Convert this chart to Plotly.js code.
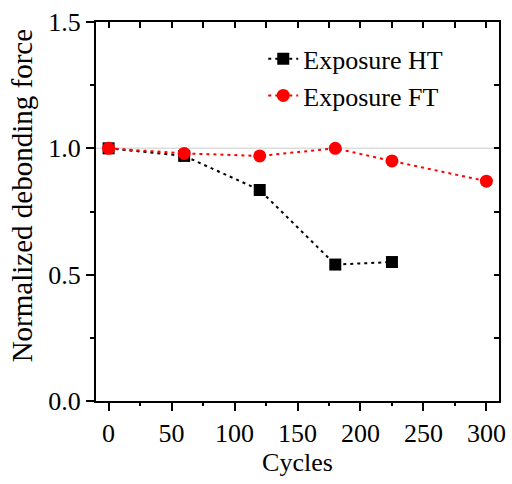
<!DOCTYPE html>
<html>
<head>
<meta charset="utf-8">
<script src="https://cdn.plot.ly/plotly-3.0.1.min.js"></script>
<style>
  html, body { margin: 0; padding: 0; background: #fff; }
  #chart { width: 512px; height: 484px; }
</style>
</head>
<body>
<div id="chart"></div>
<script>
// Normalized debonding force vs. number of exposure cycles
var cyclesHT = [0, 60, 120, 180, 225];
var forceHT  = [1.00, 0.97, 0.835, 0.54, 0.55];

var cyclesFT = [0, 60, 120, 180, 225, 300];
var forceFT  = [1.00, 0.98, 0.97, 1.00, 0.95, 0.87];

var xRange = [-10, 310];
var yRange = [0, 1.5];
var baseline = forceHT[0];   // normalization reference (initial force)

// evenly spaced tick positions within [a, b]
function steps(a, b, d) {
  var out = [];
  for (var i = 0; a + i * d <= b + 1e-9; i++) out.push(+(a + i * d).toFixed(4));
  return out;
}
var xMajorTicks = steps(0, 300, 50);
var xMinorTicks = steps(25, 300, 50);
var yMajorTicks = steps(0, 1.5, 0.5);
var yMinorTicks = steps(0.25, 1.5, 0.5);
var xAllTicks = steps(0, 300, 25);
var yAllTicks = steps(0, 1.5, 0.25);

var FONT = 'Liberation Serif';

// invisible carrier traces so the extra frame/tick axes get drawn
function carrier(xa, ya) {
  return { x: cyclesFT, y: forceFT, xaxis: xa, yaxis: ya, type: 'scatter', mode: 'markers',
           opacity: 0, showlegend: false };
}

var traces = [
  carrier('x2', 'y2'),
  carrier('x3', 'y3'),
  // light reference line at the initial (normalized) force
  {
    x: xRange, y: [baseline, baseline], type: 'scatter', mode: 'lines',
    line: { color: '#dddddd', width: 1.5 }, showlegend: false
  },
  {
    x: cyclesHT, y: forceHT, name: 'Exposure HT',
    type: 'scatter', mode: 'lines+markers',
    line: { color: '#000000', width: 2, dash: '3px,4px' },
    marker: { symbol: 'square', size: 12, color: '#000000' }
  },
  {
    x: cyclesFT, y: forceFT, name: 'Exposure FT',
    type: 'scatter', mode: 'lines+markers',
    line: { color: '#ff0000', width: 2, dash: '3px,4px' },
    marker: { symbol: 'circle', size: 13, color: '#ff0000' }
  }
];

var bare = { showgrid: false, zeroline: false, tickwidth: 2, tickcolor: '#000' };

var layout = {
  width: 512, height: 484,
  margin: { l: 96, r: 13, t: 22, b: 83 },
  font: { family: FONT, size: 26, color: '#000000' },
  showlegend: true,
  legend: {
    x: 0.415, y: 0.965, xanchor: 'left', yanchor: 'top',
    bgcolor: 'rgba(0,0,0,0)', borderwidth: 0,
    font: { family: FONT, size: 26, color: '#000000' }
  },
  // bottom / left: labelled major ticks, frame mirrored on top / right
  xaxis: Object.assign({}, bare, {
    range: xRange, tickmode: 'array', tickvals: xMajorTicks, ticktext: xMajorTicks.map(String),
    ticks: 'outside', ticklen: 8,
    showline: true, linecolor: '#000', linewidth: 2, mirror: true,
    title: { text: 'Cycles', font: { family: FONT, size: 26 }, standoff: 6 }
  }),
  yaxis: Object.assign({}, bare, {
    range: yRange, tickmode: 'array', tickvals: yMajorTicks, ticktext: yMajorTicks.map(function (v) { return v.toFixed(1); }),
    ticks: 'outside', ticklen: 8,
    showline: true, linecolor: '#000', linewidth: 2, mirror: true
  }),
  // top / right frame edges with inward ticks
  xaxis2: Object.assign({}, bare, {
    overlaying: 'x', side: 'top', anchor: 'y2', range: xRange,
    tickmode: 'array', tickvals: xAllTicks, showticklabels: false,
    ticks: 'inside', ticklen: 6,
    showline: true, linecolor: '#000', linewidth: 2
  }),
  yaxis2: Object.assign({}, bare, {
    overlaying: 'y', side: 'right', anchor: 'x2', range: yRange,
    tickmode: 'array', tickvals: yAllTicks, showticklabels: false,
    ticks: 'inside', ticklen: 5,
    showline: true, linecolor: '#000', linewidth: 2
  }),
  // bottom / left short minor ticks
  xaxis3: Object.assign({}, bare, {
    overlaying: 'x', side: 'bottom', anchor: 'y3', range: xRange,
    tickmode: 'array', tickvals: xMinorTicks, showticklabels: false,
    ticks: 'outside', ticklen: 4, showline: false
  }),
  yaxis3: Object.assign({}, bare, {
    overlaying: 'y', side: 'left', anchor: 'x3', range: yRange,
    tickmode: 'array', tickvals: yMinorTicks, showticklabels: false,
    ticks: 'outside', ticklen: 5, showline: false
  }),
  annotations: [
    { text: 'Normalized debonding force', textangle: -90, showarrow: false,
      xref: 'paper', x: 0, xanchor: 'center', xshift: -74,
      yref: 'paper', y: 0.54, yanchor: 'middle',
      font: { family: FONT, size: 29, color: '#000000' } }
  ]
};

Plotly.newPlot('chart', traces, layout, { displayModeBar: false, staticPlot: true });
</script>
</body>
</html>
